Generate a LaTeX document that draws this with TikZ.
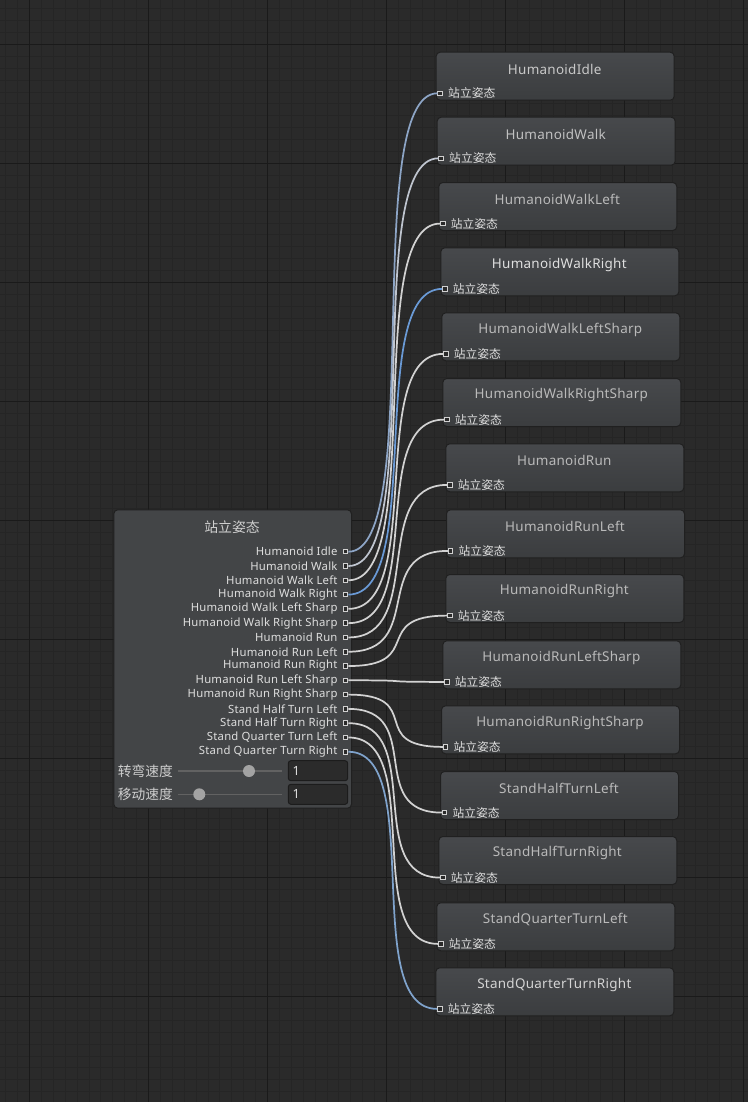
\documentclass[tikz,border=0pt]{standalone}
\usepackage{fontspec}
\setmainfont{Noto Sans}[LetterSpace=2]
\newfontfamily\cjk{Noto Sans CJK SC}
\newcommand\px{0.75pt}
\newcommand\gridminor{11.9}
\newcommand\gridmajor{119}
\newcommand\nodewidth{238}
\newcommand\nodeheight{48}
\newcommand\tangent{78}
\newcommand\portx{345.7}
\newcommand\porttop{551.7}
\newcommand\portstep{14.29}

\definecolor{canvas}{HTML}{2A2A2A}
\definecolor{minorcol}{HTML}{252525}
\definecolor{majorcol}{HTML}{1A1A1A}
\definecolor{nodeedge}{HTML}{202020}
\definecolor{blendfill}{HTML}{434547}
\definecolor{cliptop}{HTML}{47494C}
\definecolor{clipbottom}{HTML}{3B3D3F}
\definecolor{titletext}{HTML}{CFCFCF}
\definecolor{titledim}{HTML}{BABABA}
\definecolor{titleidle}{HTML}{C9C9C9}
\definecolor{titlewalk}{HTML}{C1C1C1}
\definecolor{titlebright}{HTML}{DFDFDF}
\definecolor{titlequarter}{HTML}{D4D4D4}
\definecolor{labeltext}{HTML}{DEDEDE}
\definecolor{portfill}{HTML}{2A2A2A}
\definecolor{portedge}{HTML}{D0D0D0}
\definecolor{wiregrey}{HTML}{D2D2D2}
\definecolor{wireidle}{HTML}{8DA5C6}
\definecolor{wirewalk}{HTML}{BFC5CF}
\definecolor{wireblue}{HTML}{6A9AD6}
\definecolor{wirequarter}{HTML}{7FA3CC}
\definecolor{trackcol}{HTML}{626262}
\definecolor{knobcol}{HTML}{A3A3A3}
\definecolor{fieldfill}{HTML}{2B2B2B}
\definecolor{fieldedge}{HTML}{1C1C1C}

\tikzset{
	minorline/.style = {draw = minorcol, line width = 0.75pt},
	majorline/.style = {draw = majorcol, line width = 0.9pt},
	blendnode/.style = {draw = nodeedge, fill = blendfill, rounded corners = 3pt, anchor = north west, inner sep = 0pt},
	clipnode/.style = {draw = nodeedge, top color = cliptop, bottom color = clipbottom, rounded corners = 3pt, anchor = north west, inner sep = 0pt, minimum width = \nodewidth*\px, minimum height = \nodeheight*\px},
	blendtitle/.style = {text = titletext, font = \cjk\fontsize{10.4pt}{12pt}\selectfont, inner sep = 0pt},
	cliptitle/.style = {font = \fontsize{10.1pt}{12pt}\selectfont, inner sep = 0pt},
	portlabel/.style = {text = labeltext, font = \fontsize{8.5pt}{10pt}\selectfont, anchor = east, inner sep = 0pt},
	inlabel/.style = {text = labeltext, font = \cjk\fontsize{8.85pt}{10pt}\selectfont, anchor = west, inner sep = 0pt},
	port/.style = {draw = portedge, fill = portfill, rectangle, minimum size = 4.5*\px, inner sep = 0pt, line width = 0.7pt},
	wire/.style = {line width = 1.3pt},
	sliderlabel/.style = {text = titletext, font = \cjk\fontsize{10.3pt}{12pt}\selectfont, anchor = west, inner sep = 0pt},
	track/.style = {draw = trackcol, line width = 1.2pt},
	knob/.style = {circle, fill = knobcol, minimum size = 12*\px, inner sep = 0pt},
	field/.style = {draw = fieldedge, fill = fieldfill, rounded corners = 2pt, minimum width = 59.4*\px, minimum height = 20*\px, inner sep = 0pt},
	fieldtext/.style = {text = labeltext, font = \fontsize{9.5pt}{11pt}\selectfont, anchor = west, inner sep = 0pt}
}

\begin{document}
\begin{tikzpicture}[x = \px, y = -\px, line width = \px]
	\useasboundingbox (0, 0) rectangle (748, 1102);
	\fill [canvas] (0, 0) rectangle (748, 1102);

	% Raster:
	\foreach \i in {0,...,63} {
		\draw [minorline] ({29.5+\gridminor*(\i-3)}, 0) -- +(0, 1102);
	}
	\foreach \i in {0,...,93} {
		\draw [minorline] (0, {44.5+\gridminor*(\i-4)}) -- +(748, 0);
	}
	\foreach \i in {0,...,6} {
		\draw [majorline] ({29.5+\gridmajor*\i}, 0) -- +(0, 1102);
	}
	\foreach \i in {0,...,8} {
		\draw [majorline] (0, {44.5+\gridmajor*\i}) -- +(748, 0);
	}

	% Blend-Knoten
	\node [blendnode, minimum width = 237.7*\px, minimum height = 298.4*\px] (blend) at (113.3, 509.3) {};
	\node [blendtitle] (blend-title) at (232, 526.7) {站立姿态};
	\foreach \i/\label in {
		1/Humanoid Idle, 2/Humanoid Walk, 3/Humanoid Walk Left, 4/Humanoid Walk Right,
		5/Humanoid Walk Left Sharp, 6/Humanoid Walk Right Sharp, 7/Humanoid Run,
		8/Humanoid Run Left, 9/Humanoid Run Right, 10/Humanoid Run Left Sharp,
		11/Humanoid Run Right Sharp, 12/Stand Half Turn Left, 13/Stand Half Turn Right,
		14/Stand Quarter Turn Left, 15/Stand Quarter Turn Right} {
		\node [portlabel] (label-\i) at (338, {\porttop+\portstep*(\i-1)}) {\label};
		\node [port] (out-\i) at (\portx, {\porttop+\portstep*(\i-1)}) {};
	}

	% Schieberegler
	\node [sliderlabel] (turn-label) at (117.3, 771) {转弯速度};
	\draw [track] (178.3, 771) -- (281.7, 771);
	\node [knob] (turn-knob) at (249, 771) {};
	\node [field] (turn-field) at (318, 770.7) {};
	\node [fieldtext] (turn-value) at (292, 770.7) {1};

	\node [sliderlabel] (move-label) at (117.3, 794.3) {移动速度};
	\draw [track] (178.3, 794.3) -- (281.7, 794.3);
	\node [knob] (move-knob) at (199.3, 794.3) {};
	\node [field] (move-field) at (318, 794.3) {};
	\node [fieldtext] (move-value) at (292, 794.3) {1};

	% Clip-Knoten
	\foreach \i/\name/\x/\y/\tone in {
		1/HumanoidIdle/435.7/51.7/titleidle, 2/HumanoidWalk/436.7/116.7/titlewalk,
		3/HumanoidWalkLeft/438.3/182/titledim, 4/HumanoidWalkRight/440.3/247.3/titlebright,
		5/HumanoidWalkLeftSharp/441.3/312.3/titledim, 6/HumanoidWalkRightSharp/442.3/378/titledim,
		7/HumanoidRun/445.3/443.3/titledim, 8/HumanoidRunLeft/446/509.3/titledim,
		9/HumanoidRunRight/445.3/574/titledim, 10/HumanoidRunLeftSharp/442.3/640.3/titledim,
		11/HumanoidRunRightSharp/441/705.3/titledim, 12/StandHalfTurnLeft/440/771/titledim,
		13/StandHalfTurnRight/438.3/836/titledim, 14/StandQuarterTurnLeft/436.3/902.3/titledim,
		15/StandQuarterTurnRight/435.3/967.3/titlequarter} {
		\node [clipnode] (\name) at (\x, \y) {};
		\node [cliptitle, text = \tone] (\name-title) at ({\x+\nodewidth/2}, {\y+17.3}) {\name};
		\node [port] (in-\i) at ({\x+4.5}, {\y+41.6}) {};
		\node [inlabel] (\name-label) at ({\x+12}, {\y+41.6}) {站立姿态};
	}

	% Verbindungen
	\foreach \i/\wirecolor in {
		1/wireidle, 2/wirewalk, 3/wiregrey, 4/wireblue, 5/wiregrey, 6/wiregrey, 7/wiregrey,
		8/wiregrey, 9/wiregrey, 10/wiregrey, 11/wiregrey, 12/wiregrey, 13/wiregrey,
		14/wiregrey, 15/wirequarter} {
		\draw [wire, \wirecolor] (out-\i.east) .. controls +(\tangent, 0) and +(-\tangent, 0) .. (in-\i.west);
	}
\end{tikzpicture}
\end{document}
